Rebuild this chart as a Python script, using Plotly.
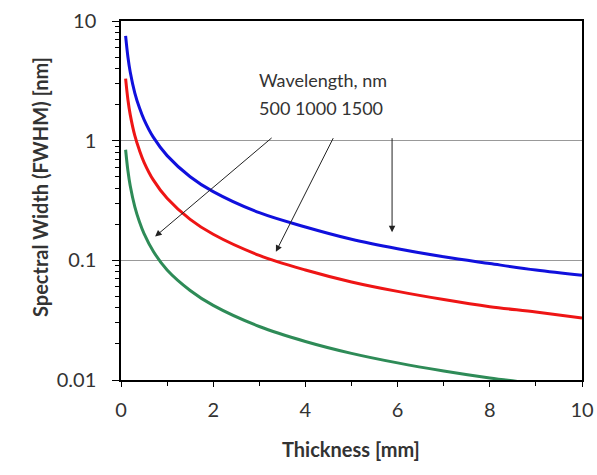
import math
import plotly.graph_objects as go

thickness = [0.1, 0.15, 0.2, 0.3, 0.4, 0.5, 0.7, 1, 1.5, 2, 3, 4, 5, 6, 7, 8, 9, 10]
fwhm_1500 = [7.5, 5.0, 3.75, 2.5, 1.88, 1.5, 1.07, 0.75, 0.5, 0.375, 0.25, 0.19, 0.15, 0.125, 0.107, 0.094, 0.083, 0.075]
fwhm_1000 = [3.3, 2.2, 1.65, 1.1, 0.83, 0.66, 0.47, 0.33, 0.22, 0.165, 0.11, 0.083, 0.066, 0.055, 0.047, 0.041, 0.037, 0.033]
fwhm_500 = [0.84, 0.56, 0.42, 0.28, 0.21, 0.167, 0.119, 0.083, 0.056, 0.042, 0.028, 0.021, 0.0167, 0.0139, 0.0119, 0.0104, 0.0093, 0.0083]

y_major = [0.01, 0.1, 1, 10]
y_major_text = ["0.01", "0.1", "1", "10"]
y_minor = [m * d for d in (0.01, 0.1, 1) for m in range(2, 10)]

series = [
    ("1500 nm", fwhm_1500, "#1010dd"),
    ("1000 nm", fwhm_1000, "#ee1515"),
    ("500 nm", fwhm_500, "#2e8b57"),
]

fig = go.Figure()
for name, vals, col in series:
    fig.add_trace(go.Scatter(x=thickness, y=vals, mode="lines", name=name,
                             line=dict(color=col, width=3, shape="spline", smoothing=1.0)))

font_family = "Lato, Open Sans, sans-serif"
txt_col = "#333"

fig.add_annotation(x=2.95, y=math.log10(3.23), xref="x", yref="y", xanchor="left", yanchor="middle",
                   text="Wavelength, nm", showarrow=False, font=dict(size=18, color=txt_col))
fig.add_annotation(x=2.95, y=math.log10(1.89), xref="x", yref="y", xanchor="left", yanchor="middle",
                   text="500 1000 1500", showarrow=False, font=dict(size=18, color=txt_col))

arrows = [((3.30, 1.08), (0.74, 0.158)), ((4.62, 1.08), (3.36, 0.118)), ((5.88, 1.08), (5.88, 0.172))]
for (x0, y0), (x1, y1) in arrows:
    fig.add_annotation(x=x1, y=math.log10(y1), ax=x0, ay=math.log10(y0),
                       xref="x", yref="y", axref="x", ayref="y", text="",
                       showarrow=True, arrowhead=2, arrowsize=1.3, arrowwidth=1, arrowcolor="#222")

# axis titles as annotations for precise placement
fig.add_annotation(x=351, y=475 - 463, xref="paper", yref="paper", text="<b>Thickness [mm]</b>",
                   showarrow=False, font=dict(size=20, color=txt_col))
fig.add_annotation(x=26, y=475 - 187, xref="paper", yref="paper", text="<b>Spectral Width (FWHM) [nm]</b>",
                   showarrow=False, textangle=-90, font=dict(size=20, color=txt_col))

fig.update_layout(
    width=597, height=475,
    margin=dict(l=121, r=15, t=21, b=95),
    plot_bgcolor="white", paper_bgcolor="white",
    showlegend=False,
    font=dict(family=font_family, size=20, color=txt_col),
)
# convert paper annotations from pixel to paper fractions
for ann in fig.layout.annotations:
    if ann.xref == "paper":
        ann.x = (ann.x - 121) / (597 - 121 - 15)
        ann.y = (ann.y - 95) / (475 - 21 - 95)

fig.update_xaxes(range=[0, 10], dtick=2, tick0=0, showline=True, linecolor="black", linewidth=1.5,
                 mirror=True, ticks="outside", ticklen=5, tickcolor="black", showgrid=False, zeroline=False,
                 automargin=False, ticklabelstandoff=6,
                 minor=dict(dtick=1, tick0=0, ticks="outside", ticklen=4, tickcolor="black"))
fig.update_yaxes(type="log", range=[-2, 1], tickvals=y_major, ticktext=y_major_text,
                 showline=True, linecolor="black", linewidth=1.5, mirror=True, ticks="outside", ticklen=7,
                 tickcolor="black", showgrid=True, gridcolor="#999", gridwidth=1, zeroline=False,
                 automargin=False, ticklabelstandoff=12,
                 minor=dict(tickvals=y_minor, ticks="outside", ticklen=4, tickcolor="black", showgrid=False))

fig.write_html("out.html")
